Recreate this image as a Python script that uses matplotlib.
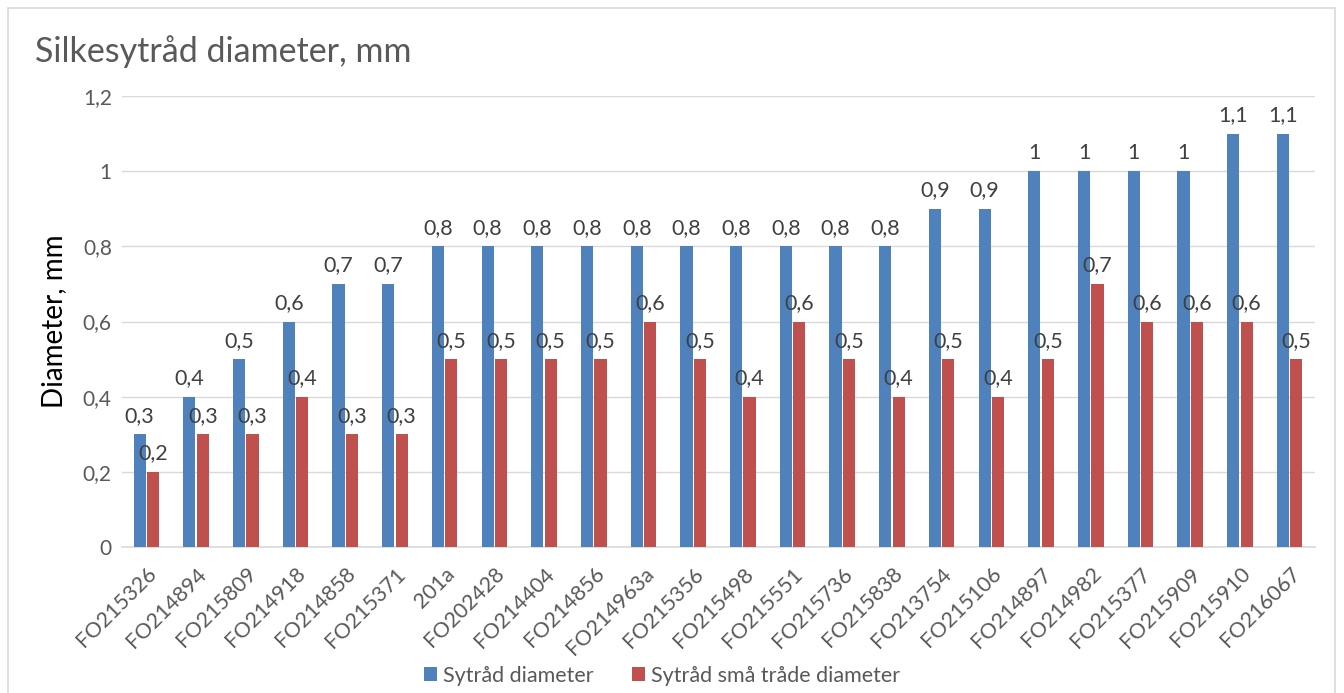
import matplotlib
matplotlib.use("Agg")
import matplotlib.pyplot as plt
import numpy as np
from matplotlib.patches import Rectangle

categories = ["FO215326", "FO214894", "FO215809", "FO214918", "FO214858", "FO215371",
              "201a", "FO202428", "FO214404", "FO214856", "FO214963a", "FO215356",
              "FO215498", "FO215551", "FO215736", "FO215838", "FO213754", "FO215106",
              "FO214897", "FO214982", "FO215377", "FO215909", "FO215910", "FO216067"]
sytraad = [0.3, 0.4, 0.5, 0.6, 0.7, 0.7, 0.8, 0.8, 0.8, 0.8, 0.8, 0.8,
           0.8, 0.8, 0.8, 0.8, 0.9, 0.9, 1.0, 1.0, 1.0, 1.0, 1.1, 1.1]
smaa = [0.2, 0.3, 0.3, 0.4, 0.3, 0.3, 0.5, 0.5, 0.5, 0.5, 0.6, 0.5,
        0.4, 0.6, 0.5, 0.4, 0.5, 0.4, 0.5, 0.7, 0.6, 0.6, 0.6, 0.5]
series_names = ["Sytråd diameter", "Sytråd små tråde diameter"]
yticks = [0, 0.2, 0.4, 0.6, 0.8, 1.0, 1.2]

plt.rcParams['font.family'] = ['Lato', 'DejaVu Sans']
grey = '#595959'

fig = plt.figure(figsize=(13.44, 6.93), dpi=100)
fig.patches.append(Rectangle((8/1344, -0.01), (1335-8)/1344, 1 - 8/693 + 0.01,
                             transform=fig.transFigure, fill=False,
                             edgecolor='#D9D9D9', linewidth=1.2))
ax = fig.add_axes([121.5/1344, 1 - 547/693, (1314.5-121.5)/1344, (547-96)/693])

x = np.arange(len(categories))
w = 0.245
off = 0.135
b1 = ax.bar(x - off, sytraad, width=w, color='#4F81BD', label=series_names[0], zorder=3)
b2 = ax.bar(x + off, smaa, width=w, color='#C0504D', label=series_names[1], zorder=3)

def fmt(v):
    s = f"{v:g}"
    return s.replace('.', ',')

for bars, vals in ((b1, sytraad), (b2, smaa)):
    for r, v in zip(bars, vals):
        ax.annotate(fmt(v), (r.get_x() + r.get_width()/2, v), xytext=(0, 6),
                    textcoords='offset points', ha='center', va='bottom',
                    fontsize=15.5, color='#404040', zorder=4)

ax.set_xlim(-0.5, len(categories) - 0.5)
ax.set_ylim(0, 1.2)
ax.set_yticks(yticks)
ax.set_yticklabels([fmt(t) for t in yticks], fontsize=15, color=grey)
ax.set_xticks(x)
ax.set_xticklabels(categories, rotation=45, ha='right', rotation_mode='anchor',
                   fontsize=15.5, color=grey)
ax.tick_params(axis='both', length=0)
ax.tick_params(axis='x', pad=12)
ax.tick_params(axis='y', pad=7)
ax.grid(axis='y', color='#D9D9D9', linewidth=1, zorder=0)
for s in ['top', 'right', 'left']:
    ax.spines[s].set_visible(False)
ax.spines['bottom'].set_color('#D9D9D9')
ax.spines['bottom'].set_linewidth(1.2)

ax.set_ylabel("Diameter, mm", fontsize=20, color='black')
ax.yaxis.set_label_coords(-0.046, 0.5)

fig.text(35/1344, 1 - 52/693, "Silkesytråd diameter, mm", fontsize=24.5,
         color=grey, va='center', ha='left')

fig.legend(handles=[b1, b2], loc='center', bbox_to_anchor=(662/1344, 1 - 676/693),
           ncol=2, frameon=False, fontsize=15.5, labelcolor=grey,
           handlelength=0.62, handleheight=0.62, handletextpad=0.25, columnspacing=1.8)

fig.savefig("out.png", dpi=100)
